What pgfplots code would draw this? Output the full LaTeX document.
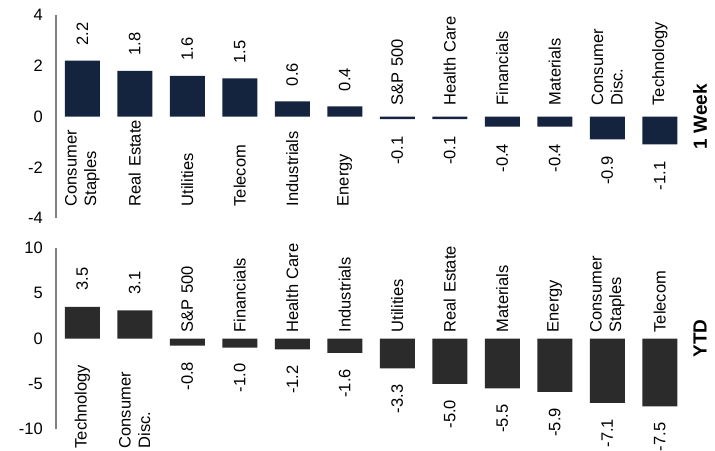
\documentclass[border=0pt]{standalone}
\usepackage{pgfplots}
\pgfplotsset{compat=1.18}
\usepackage{fontspec}
\setmainfont{Liberation Sans}

\definecolor{navy}{HTML}{14243F}
\definecolor{bargray}{HTML}{2B2B2B}
\definecolor{axgray}{HTML}{808080}

\newcommand\lblfont{\fontsize{16.5}{19.5}\selectfont}

\pgfplotsset{
  panel/.style={
    scale only axis, width=630pt, clip=false,
    xmin=-0.5, xmax=11.5,
    axis x line=none, axis y line*=left,
    y axis line style={draw=axgray, line width=1.5pt},
    major tick length=0pt, ytick style={draw=none},
    yticklabel style={font=\lblfont, inner sep=0pt, xshift=-13pt},
    ylabel style={at={(axis description cs:1.0222,0.5)}, anchor=center,
      font=\fontsize{19}{19}\selectfont\bfseries},
  },
  % bars with their value on top (#1 = colour, #2 = anchor, #3 = shift)
  bars/.style n args={3}{
    ybar, bar width=35pt, bar shift=0pt, fill=#1, draw=none,
    point meta=y,
    nodes near coords={\pgfmathprintnumber[fixed,fixed zerofill,precision=1,assume math mode=true]{\pgfplotspointmeta}},
    every node near coord/.append style={font=\lblfont, inner sep=0pt,
      yshift=#3, rotate=90, anchor=#2},
  },
  % category names (#1 = shift from zero line)
  cats/.style={
    draw=none, mark=none, point meta=explicit symbolic, nodes near coords,
    every node near coord/.append style={font=\lblfont, inner sep=0pt,
      yshift=#1, rotate=90, anchor=west, text width=100pt, align=left},
  },
}

\begin{document}
\begin{tikzpicture}
\path[use as bounding box] (0,0) rectangle (715pt,-450pt);

% ---- 1 Week ----
\begin{axis}[panel, at={(56pt,-218pt)}, anchor=south west, height=203pt,
  ymin=-4, ymax=4, ytick={-4,-2,0,2,4}, yticklabels={-4,-2,0,2,4},
  ylabel={1 Week}]
\addplot[bars={navy}{west}{15pt}] coordinates {
  (0,2.2) (1,1.8) (2,1.6) (3,1.5) (4,0.6) (5,0.4)};
\addplot[bars={navy}{east}{-17pt}] coordinates {
  (6,-0.1) (7,-0.1) (8,-0.4) (9,-0.4) (10,-0.9) (11,-1.1)};
\addplot[cats=-90pt] coordinates {
  (0,0) [Consumer Staples] (1,0) [Real Estate] (2,0) [Utilities]
  (3,0) [Telecom] (4,0) [Industrials] (5,0) [Energy]};
\addplot[cats=11pt] coordinates {
  (6,0) [S\&P 500] (7,0) [Health Care] (8,0) [Financials]
  (9,0) [Materials] (10,0) [Consumer Disc.] (11,0) [Technology]};
\end{axis}

% ---- YTD ----
\begin{axis}[panel, at={(56pt,-429pt)}, anchor=south west, height=181pt,
  ymin=-10, ymax=10, ytick={-10,-5,0,5,10}, yticklabels={-10,-5,0,5,10},
  ylabel={YTD}]
\addplot[bars={bargray}{west}{16pt}] coordinates {
  (0,3.5) (1,3.1)};
\addplot[bars={bargray}{east}{-16pt}] coordinates {
  (2,-0.8) (3,-1.0) (4,-1.2) (5,-1.6) (6,-3.3) (7,-5.0)
  (8,-5.5) (9,-5.9) (10,-7.1) (11,-7.5)};
\addplot[cats=-110pt] coordinates {
  (0,0) [Technology] (1,0) [Consumer Disc.]};
\addplot[cats=6pt] coordinates {
  (2,0) [S\&P 500] (3,0) [Financials] (4,0) [Health Care]
  (5,0) [Industrials] (6,0) [Utilities] (7,0) [Real Estate]
  (8,0) [Materials] (9,0) [Energy] (10,0) [Consumer Staples] (11,0) [Telecom]};
\end{axis}
\end{tikzpicture}
\end{document}
